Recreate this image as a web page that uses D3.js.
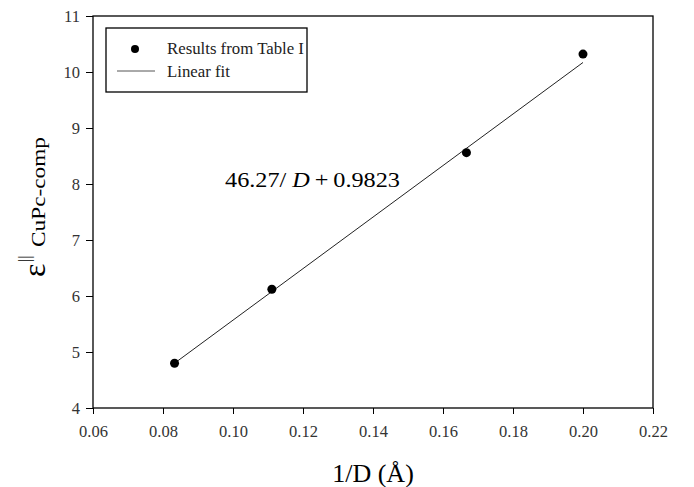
<!DOCTYPE html>
<html>
<head>
<meta charset="utf-8">
<script src="https://cdn.jsdelivr.net/npm/d3@7"></script>
<style>
  body { margin: 0; background: #fff; }
  svg { display: block; }
</style>
</head>
<body>
<div></div>
<script>
// epsilon vs 1/D with linear fit

const invD = [0.0833, 0.1111, 0.1667, 0.2];
const eps = [4.80, 6.12, 8.56, 10.32];

// fit line end points
const fitX = [0.0833, 0.2];
const fitY = [4.80, 10.17];

const xTicks = [0.06, 0.08, 0.10, 0.12, 0.14, 0.16, 0.18, 0.20, 0.22];
const yTicks = [4, 5, 6, 7, 8, 9, 10, 11];

const W = 694, H = 487;
const margin = { left: 93, right: 41, top: 16, bottom: 79 };
const serif = '"Liberation Serif", "DejaVu Serif", serif';

const svg = d3.select('div').append('svg')
  .attr('width', W)
  .attr('height', H);

const x = d3.scaleLinear().domain([0.06, 0.22]).range([margin.left, W - margin.right]);
const y = d3.scaleLinear().domain([4, 11]).range([H - margin.bottom, margin.top]);

// frame
svg.append('rect')
  .attr('x', x(0.06))
  .attr('y', y(11))
  .attr('width', x(0.22) - x(0.06))
  .attr('height', y(4) - y(11))
  .attr('fill', 'none')
  .attr('stroke', '#000')
  .attr('stroke-width', 1.3);

const xAxis = svg.append('g')
  .attr('transform', `translate(0,${y(4)})`)
  .call(d3.axisBottom(x).tickValues(xTicks).tickFormat(d3.format('.2f')).tickSize(6).tickPadding(11));

const yAxis = svg.append('g')
  .attr('transform', `translate(${x(0.06)},0)`)
  .call(d3.axisLeft(y).tickValues(yTicks).tickFormat(d3.format('d')).tickSize(7).tickPadding(6));

[xAxis, yAxis].forEach(g => {
  g.select('.domain').remove();
  g.selectAll('line').attr('stroke', '#000');
  g.selectAll('text')
    .attr('fill', '#333')
    .style('font-family', serif)
    .style('font-size', '16.5px');
});

// fit line
svg.append('path')
  .datum(fitX.map((d, i) => [d, fitY[i]]))
  .attr('d', d3.line().x(d => x(d[0])).y(d => y(d[1])))
  .attr('fill', 'none')
  .attr('stroke', '#222')
  .attr('stroke-width', 1);

// points
svg.selectAll('circle.pt')
  .data(invD)
  .enter()
  .append('circle')
  .attr('class', 'pt')
  .attr('cx', d => x(d))
  .attr('cy', (d, i) => y(eps[i]))
  .attr('r', 4.5)
  .attr('fill', '#000');

// equation
const eq = svg.append('text')
  .attr('x', 225)
  .attr('y', 187)
  .attr('textLength', 175)
  .attr('lengthAdjust', 'spacingAndGlyphs')
  .style('font-family', serif)
  .style('font-size', '22px')
  .attr('fill', '#000');
eq.append('tspan').text('46.27/ ');
eq.append('tspan').style('font-style', 'italic').text('D');
eq.append('tspan').text('\u2009+\u20090.9823');

// legend
const lg = svg.append('g');
lg.append('rect')
  .attr('x', 106).attr('y', 28)
  .attr('width', 201).attr('height', 64)
  .attr('fill', '#fff')
  .attr('stroke', '#000')
  .attr('stroke-width', 1.3);
lg.append('circle').attr('cx', 135).attr('cy', 49).attr('r', 4).attr('fill', '#000');
lg.append('line')
  .attr('x1', 117).attr('x2', 155)
  .attr('y1', 71).attr('y2', 71)
  .attr('stroke', '#555').attr('stroke-width', 1);
lg.selectAll('text.lab')
  .data(['Results from Table I', 'Linear fit'])
  .enter()
  .append('text')
  .attr('class', 'lab')
  .attr('x', 167)
  .attr('y', (d, i) => 54 + i * 23)
  .style('font-family', serif)
  .style('font-size', '16.8px')
  .attr('fill', '#222')
  .text(d => d);

// x title
svg.append('text')
  .attr('x', (x(0.06) + x(0.22)) / 2)
  .attr('y', 482)
  .attr('text-anchor', 'middle')
  .style('font-family', serif)
  .style('font-size', '26px')
  .text('1/D (Å)');

// y title: epsilon with parallel superscript and subscript
const yt = svg.append('g')
  .attr('transform', 'translate(45,267) rotate(-90)')
  .style('font-family', serif);
yt.append('text')
  .attr('x', -10).attr('y', 0)
  .style('font-size', '32px')
  .text('ε');
yt.append('text')
  .attr('x', 5).attr('y', -15)
  .style('font-size', '16px')
  .text('||');
yt.append('text')
  .attr('x', 20).attr('y', 0)
  .style('font-size', '19px')
  .attr('textLength', 110)
  .attr('lengthAdjust', 'spacingAndGlyphs')
  .text('CuPc-comp');
</script>
</body>
</html>
